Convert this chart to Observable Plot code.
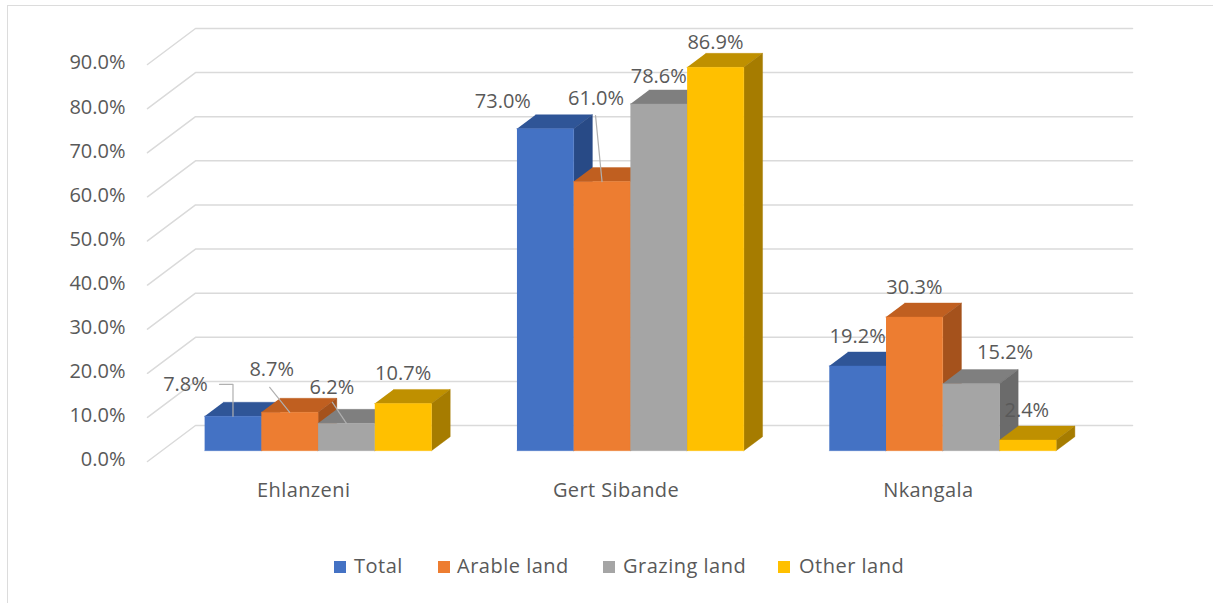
<!DOCTYPE html>
<html>
<head>
<meta charset="utf-8">
<script src="https://cdn.jsdelivr.net/npm/d3@7"></script>
<script src="https://cdn.jsdelivr.net/npm/@observablehq/plot@0.6"></script>
<style>
  html, body { margin: 0; background: #fff; }
  #frame { position: relative; width: 1215px; height: 603px; overflow: hidden; font-family: "Open Sans", sans-serif; }
  #frame::before { content: ""; position: absolute; left: 7px; top: 5px; right: 2px; bottom: -4px; border: 1.5px solid #dcdcdc; border-right: none; }
  #chart { position: absolute; left: 0; top: 0; }
  #legend { position: absolute; left: 0; top: 535px; width: 1215px; height: 60px; color: #595959; font-size: 20px; }
  #legend span.item { position: absolute; top: 20px; line-height: 22px; white-space: nowrap; letter-spacing: 0.5px; }
  #legend i { position: absolute; top: 6px; width: 12px; height: 12px; }
</style>
</head>
<body>
<div id="frame">
  <div id="chart"></div>
  <div id="legend"></div>
</div>
<script>
// Share of land by district and land class, in percent
const districts = ["Ehlanzeni", "Gert Sibande", "Nkangala"];
const landClasses = ["Total", "Arable land", "Grazing land", "Other land"];
const total = [7.8, 73.0, 19.2];
const arable = [8.7, 61.0, 30.3];
const grazing = [6.2, 78.6, 15.2];
const other = [10.7, 86.9, 2.4];
const seriesValues = [total, arable, grazing, other];
const yTicks = d3.range(0, 100, 10);

// Face colours per land class
const frontColors = ["#4472c4", "#ed7d31", "#a5a5a5", "#ffc000"];
const topColors = ["#2f5597", "#c05f20", "#7f7f7f", "#bf9000"];
const sideColors = ["#284a86", "#a5521c", "#6b6b6b", "#a67c00"];
const textColor = "#595959";

// Oblique projection: x in district slots, y in percent, depth from 0 (front) to 1 (back wall)
const depthX = 0.1537;
const depthY = 8.16;
const barWidth = 0.1816;
const barInset = (1 - barWidth * landClasses.length) / 2;
const barDepthFront = 0.3;
const barDepthBack = 0.69;
const project = (slot, value, depth) => ({x: slot + depth * depthX, y: value + depth * depthY});

// Plot frame in pixels, and the pixel size of one data unit for label nudges
const plotLeft = 147, plotRight = 1132, plotTop = 28, plotBase = 461;
const xDomainMax = districts.length + depthX;
const yDomainMax = 90 + depthY;
const unitX = xDomainMax / (plotRight - plotLeft);
const unitY = yDomainMax / (plotBase - plotTop);

// Gridlines run along the left wall, then across the back wall
const gridPoints = yTicks.flatMap((tick) =>
  [project(0, tick, 0), project(0, tick, 1), project(districts.length, tick, 1)]
    .map((p) => ({...p, tick}))
);

// Each bar is three polygons, listed back to front so neighbours overlap properly
const faces = [];
const bars = [];
districts.forEach((district, c) => {
  landClasses.forEach((landClass, s) => {
    const value = seriesValues[s][c];
    const x0 = c + barInset + s * barWidth;
    const x1 = x0 + barWidth;
    const f = barDepthFront, b = barDepthBack;
    bars.push({district, landClass, c, s, value, center: project((x0 + x1) / 2, value, f)});
    const addFace = (name, color, corners) => {
      corners.forEach(([sx, v, d]) => faces.push({...project(sx, v, d), id: `${c}-${s}-${name}`, color}));
    };
    addFace("top", topColors[s], [[x0, value, f], [x1, value, f], [x1, value, b], [x0, value, b]]);
    addFace("side", sideColors[s], [[x1, 0, f], [x1, 0, b], [x1, value, b], [x1, value, f]]);
    addFace("front", frontColors[s], [[x0, 0, f], [x1, 0, f], [x1, value, f], [x0, value, f]]);
  });
});

// Label nudges from each bar's front top centre, in pixels, by district then land class
const labelNudges = [
  [[-47.5, -32], [-18, -43], [-14.5, -36], [0, -30]],
  [[-42.5, -27.5], [-6, -83], [0, -27], [0, -25]],
  [[0, -29], [0, -29], [34, -31], [-1, -30]]
];
// Leader lines for the labels that sit away from their bars
const leaders = [
  {c: 0, s: 0, path: [[-13.5, -32], [0, -32], [0, 0]]},
  {c: 0, s: 1, path: [[-20, -25], [0, 0]]},
  {c: 0, s: 2, path: [[-14, -21], [0, 0]]},
  {c: 1, s: 1, path: [[-6.5, -66], [0, 0]]}
];
const leaderPoints = leaders.flatMap((leader, id) => {
  const bar = bars.find((b) => b.c === leader.c && b.s === leader.s);
  return leader.path.map(([px, py]) => ({id, x: bar.center.x + px * unitX, y: bar.center.y - py * unitY}));
});

const fontSize = 20;
const chart = Plot.plot({
  width: 1215,
  height: 535,
  marginLeft: plotLeft,
  marginRight: 1215 - plotRight,
  marginTop: plotTop,
  marginBottom: 535 - plotBase,
  style: {background: "transparent", fontFamily: '"Open Sans", sans-serif'},
  x: {domain: [0, xDomainMax], axis: null},
  y: {domain: [0, yDomainMax], axis: null},
  marks: [
    Plot.line(gridPoints, {x: "x", y: "y", z: "tick", stroke: "#dadada", strokeWidth: 1.5}),
    Plot.axisY(yTicks, {
      tickFormat: (d) => d.toFixed(1) + "%",
      tickSize: 0, tickPadding: 22, dy: -1.5, fontSize, fill: textColor, label: null
    }),
    Plot.line(faces, {x: "x", y: "y", z: "id", fill: "color", stroke: "color", strokeWidth: 0.4}),
    Plot.line(leaderPoints, {x: "x", y: "y", z: "id", stroke: "#b0b0b0", strokeWidth: 1.2}),
    Plot.text(districts, {
      x: (d, i) => i + 0.5, y: () => 0, text: (d) => d, dy: 29, fontSize, letterSpacing: 0.4, fill: textColor,
      render: (index, scales, values, dimensions, context, next) => {
        const g = next(index, scales, values, dimensions, context);
        g.style.letterSpacing = "0.4px";
        return g;
      }
    }),
    ...bars.map((bar) => Plot.text([bar], {
      x: (d) => d.center.x, y: (d) => d.center.y,
      text: (d) => d.value.toFixed(1) + "%",
      dx: labelNudges[bar.c][bar.s][0], dy: labelNudges[bar.c][bar.s][1],
      fontSize, fill: textColor
    }))
  ]
});
document.getElementById("chart").append(chart);

// Legend under the chart, with a square swatch before each name
const swatchLeft = [334, 438, 603, 778];
const nameLeft = [354, 457, 623, 799];
const legend = document.getElementById("legend");
landClasses.forEach((name, s) => {
  const swatch = document.createElement("span");
  swatch.className = "item";
  swatch.style.left = swatchLeft[s] + "px";
  const mark = document.createElement("i");
  mark.style.background = frontColors[s];
  swatch.append(mark);
  const label = document.createElement("span");
  label.className = "item";
  label.style.left = nameLeft[s] + "px";
  label.textContent = name;
  legend.append(swatch, label);
});
</script>
</body>
</html>
